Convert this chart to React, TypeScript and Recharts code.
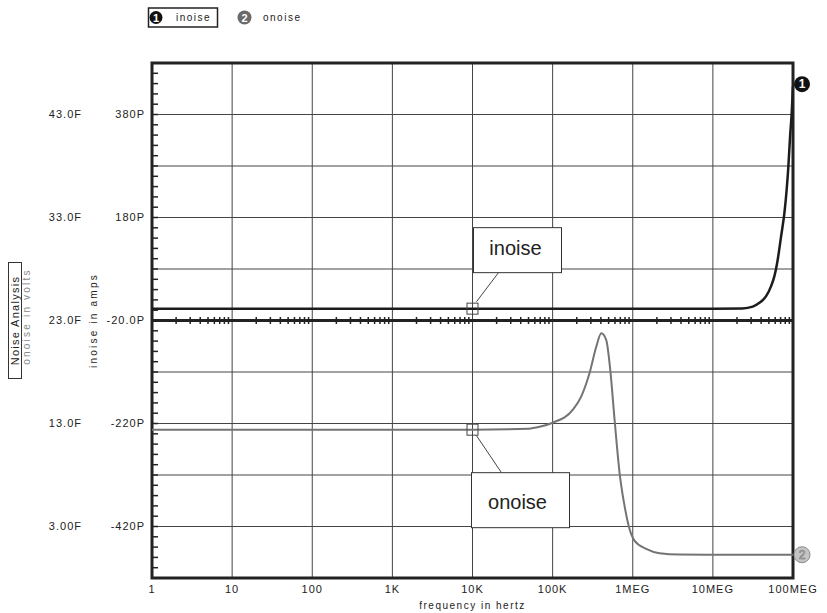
import {
  ComposedChart, Line, XAxis, YAxis, CartesianGrid, ReferenceLine, ReferenceArea,
  ReferenceDot, Scatter, Legend,
} from 'recharts'

// x axis: decades 1 Hz .. 100 MHz
const decadeTicks = [1, 10, 100, 1e3, 1e4, 1e5, 1e6, 1e7, 1e8]
const decadeLabels = ['1', '10', '100', '1K', '10K', '100K', '1MEG', '10MEG', '100MEG']

// inoise (pA), left inner axis
const inoiseFreq = [1, 1e3, 1e4, 1e6, 1e7, 2.34e7, 3.14e7, 3.81e7, 4.62e7, 5.33e7, 5.86e7, 6.45e7, 7.11e7, 7.82e7, 8.34e7, 8.76e7, 9.2e7, 9.64e7, 1e8]
const inoiseVals = [3, 3, 3, 3, 3, 3.5, 7, 14.4, 27.2, 46.7, 66.1, 98.6, 143.8, 189.3, 234.6, 279.9, 338.2, 383.7, 435]

// onoise (fV), left outer axis
const onoiseFreq = [1, 1e3, 1e4, 5e4, 6.89e4, 1e5, 1.79e5, 2.28e5, 2.89e5, 3.51e5, 4.05e5, 4.67e5, 5.24e5, 5.93e5, 6.84e5, 7.9e5, 9.12e5, 1.05e6, 1.47e6, 2.16e6, 3.83e6, 1e7, 1e8]
const onoiseVals = [12.4, 12.4, 12.4, 12.5, 12.68, 13.07, 14.35, 15.64, 17.9, 20.47, 21.76, 21.1, 18.2, 13.39, 8.24, 5.0, 2.75, 1.63, 0.83, 0.41, 0.27, 0.26, 0.26]

const inoiseGridTicks = [-520, -420, -320, -220, -120, -20, 80, 180, 280, 380, 480]
const inoiseLabelTicks = [380, 180, -20, -220, -420]
const inoiseLabelText = ['380P', '180P', '-20.0P', '-220P', '-420P']

const onoiseTicks = [43, 33, 23, 13, 3]
const onoiseLabelText = ['43.0F', '33.0F', '23.0F', '13.0F', '3.00F']

const seriesNames = ['inoise', 'onoise']

// minor tick positions (axis decoration)
const minorYTicks: number[] = []
for (let v = -500; v < 480; v += 20) minorYTicks.push(v)
const minorXTicks: number[] = []
for (let d = 1; d < 1e8; d *= 10) for (let k = 2; k <= 9; k++) minorXTicks.push(d * k)

const inoiseData = inoiseFreq.map((f, i) => ({ f, v: inoiseVals[i] }))
const onoiseData = onoiseFreq.map((f, i) => ({ f, v: onoiseVals[i] }))
const minorXData = minorXTicks.map(f => ({ f, v: -20 }))
const minorYData = minorYTicks.map(v => ({ f: 1, v }))

const DARK = '#222'
const TICK_STYLE = { fill: DARK, fontSize: 11, letterSpacing: 1 }

const fmtX = (v: number) => decadeLabels[decadeTicks.indexOf(v)] ?? ''
const fmtI = (v: number) => inoiseLabelText[inoiseLabelTicks.indexOf(v)] ?? ''
const fmtO = (v: number) => onoiseLabelText[onoiseTicks.indexOf(v)] ?? ''

function MinorXTick({ cx, cy }: any) {
  return <line x1={cx} x2={cx} y1={cy - 3.5} y2={cy + 3.5} stroke={DARK} strokeWidth={1.5} />
}

function MinorYTick({ cx, cy }: any) {
  return <line x1={cx} x2={cx + 6} y1={cy} y2={cy} stroke={DARK} strokeWidth={1.5} />
}

function InoiseCallout({ cx, cy }: any) {
  return (
    <g>
      <rect x={cx - 5.5} y={cy - 5.5} width={11} height={11} fill="none" stroke="#444" />
      <line x1={cx + 4} y1={cy - 7} x2={cx + 26} y2={cy - 36} stroke="#444" />
      <rect x={cx + 1} y={cy - 81} width={88} height={45} fill="#fff" stroke="#333" />
      <text x={cx + 43} y={cy - 54} textAnchor="middle" fontSize={20} fill={DARK}>inoise</text>
    </g>
  )
}

function OnoiseCallout({ cx, cy }: any) {
  return (
    <g>
      <rect x={cx - 5.5} y={cy - 5.5} width={11} height={11} fill="none" stroke="#444" />
      <line x1={cx + 4} y1={cy + 6} x2={cx + 29} y2={cy + 43} stroke="#444" />
      <rect x={cx - 1} y={cy + 43} width={98} height={55} fill="#fff" stroke="#333" />
      <text x={cx + 45} y={cy + 79} textAnchor="middle" fontSize={20} fill={DARK}>onoise</text>
    </g>
  )
}

function EndMarker1({ cx, cy }: any) {
  return (
    <g>
      <circle cx={cx + 9} cy={cy - 2} r={8} fill="#111" />
      <text x={cx + 9} y={cy + 2} textAnchor="middle" fontSize={12} fontWeight="bold" fill="#fff">1</text>
    </g>
  )
}

function EndMarker2({ cx, cy }: any) {
  return (
    <g>
      <circle cx={cx + 9} cy={cy} r={8} fill="#c4c4c4" stroke="#8a8a8a" />
      <text x={cx + 9} y={cy + 4.5} textAnchor="middle" fontSize={12} fill="#f2f2f2" stroke="#7a7a7a" strokeWidth={0.7}>2</text>
    </g>
  )
}

function LegendBox() {
  return (
    <svg width={330} height={34} style={{ display: 'block' }}>
      <rect x={148.5} y={8} width={69} height={19} fill="none" stroke={DARK} strokeWidth={1.5} />
      <circle cx={156} cy={17.5} r={6.5} fill="#111" />
      <text x={156} y={21.5} textAnchor="middle" fontSize={11} fontWeight="bold" fill="#fff">1</text>
      <text x={176} y={21} fontSize={10} letterSpacing={1.5} fill={DARK}>{seriesNames[0]}</text>
      <circle cx={244.5} cy={17.5} r={7} fill="#6a6a6a" />
      <text x={244.5} y={21.5} textAnchor="middle" fontSize={11} fontWeight="bold" fill="#fff">2</text>
      <text x={263} y={21} fontSize={10} letterSpacing={1.5} fill={DARK}>{seriesNames[1]}</text>
    </svg>
  )
}

function OnoiseAxisLabel({ viewBox }: any) {
  const cy = viewBox.y + viewBox.height / 2
  return (
    <g>
      <rect x={8.5} y={cy - 58} width={13} height={116} fill="none" stroke="#333" />
      <text x={18.5} y={cy} transform={`rotate(-90 18.5 ${cy})`} textAnchor="middle" fontSize={11} letterSpacing={1.3} fill={DARK}>Noise Analysis</text>
      <text x={30} y={cy - 4} transform={`rotate(-90 30 ${cy - 4})`} textAnchor="middle" fontSize={10} letterSpacing={2.2} fill="#888">onoise in volts</text>
    </g>
  )
}

function InoiseAxisLabel({ viewBox }: any) {
  const cy = viewBox.y + viewBox.height / 2
  return (
    <text x={97} y={cy} transform={`rotate(-90 97 ${cy})`} textAnchor="middle" fontSize={10} letterSpacing={2.2} fill={DARK}>inoise in amps</text>
  )
}

function XAxisLabel({ viewBox }: any) {
  return (
    <text x={viewBox.x + viewBox.width / 2} y={viewBox.y + 31} textAnchor="middle" fontSize={10} letterSpacing={1.5} fill={DARK}>frequency in hertz</text>
  )
}

export default function App() {
  const i10k = inoiseVals[inoiseFreq.indexOf(1e4)]
  const o10k = onoiseVals[onoiseFreq.indexOf(1e4)]
  return (
    <div style={{ position: 'absolute', left: 0, top: 0, background: '#fff', fontFamily: "'Liberation Sans', Arial, sans-serif" }}>
      <ComposedChart width={827} height={613} margin={{ top: 63, right: 34, bottom: 0, left: 0 }}>
        <CartesianGrid yAxisId="i" stroke="#444" strokeWidth={1} />
        <XAxis
          dataKey="f"
          type="number"
          scale="log"
          domain={[1, 1e8]}
          ticks={decadeTicks}
          tickFormatter={fmtX}
          allowDataOverflow
          axisLine={false}
          tickLine={false}
          tickSize={0}
          tickMargin={7}
          height={35}
          tick={TICK_STYLE}
          label={{ content: XAxisLabel }}
        />
        <YAxis
          yAxisId="i"
          type="number"
          domain={[-520, 480]}
          ticks={inoiseGridTicks}
          tickFormatter={fmtI}
          allowDataOverflow
          interval={0}
          width={64}
          axisLine={false}
          tickLine={false}
          tickSize={0}
          tickMargin={7}
          tick={TICK_STYLE}
          label={{ content: InoiseAxisLabel }}
        />
        <YAxis
          yAxisId="o"
          type="number"
          domain={[-2, 48]}
          ticks={onoiseTicks}
          tickFormatter={fmtO}
          allowDataOverflow
          interval={0}
          width={88}
          axisLine={false}
          tickLine={false}
          tickSize={0}
          tickMargin={6}
          tick={TICK_STYLE}
          label={{ content: OnoiseAxisLabel }}
        />
        <Legend
          layout="horizontal"
          verticalAlign="middle"
          align="center"
          wrapperStyle={{ top: 0, left: 0, width: 330, height: 34 }}
          content={LegendBox}
        />
        <ReferenceArea yAxisId="i" x1={1} x2={1e8} y1={-520} y2={480} fill="none" fillOpacity={0} stroke={DARK} strokeWidth={3} />
        <ReferenceLine yAxisId="i" y={-20} stroke={DARK} strokeWidth={3} />
        <Scatter yAxisId="i" data={minorXData} dataKey="v" shape={MinorXTick} isAnimationActive={false} legendType="none" />
        <Scatter yAxisId="i" data={minorYData} dataKey="v" shape={MinorYTick} isAnimationActive={false} legendType="none" />
        <Line yAxisId="o" data={onoiseData} dataKey="v" type="monotone" stroke="#747474" strokeWidth={2} dot={false} isAnimationActive={false} />
        <Line yAxisId="i" data={inoiseData} dataKey="v" type="monotone" stroke="#1c1c1c" strokeWidth={2.5} dot={false} isAnimationActive={false} />
        <ReferenceDot yAxisId="i" x={1e4} y={i10k} r={0} shape={InoiseCallout} />
        <ReferenceDot yAxisId="o" x={1e4} y={o10k} r={0} shape={OnoiseCallout} />
        <ReferenceDot yAxisId="i" x={1e8} y={inoiseVals[inoiseVals.length - 1]} r={0} shape={EndMarker1} />
        <ReferenceDot yAxisId="o" x={1e8} y={onoiseVals[onoiseVals.length - 1]} r={0} shape={EndMarker2} />
      </ComposedChart>
    </div>
  )
}
